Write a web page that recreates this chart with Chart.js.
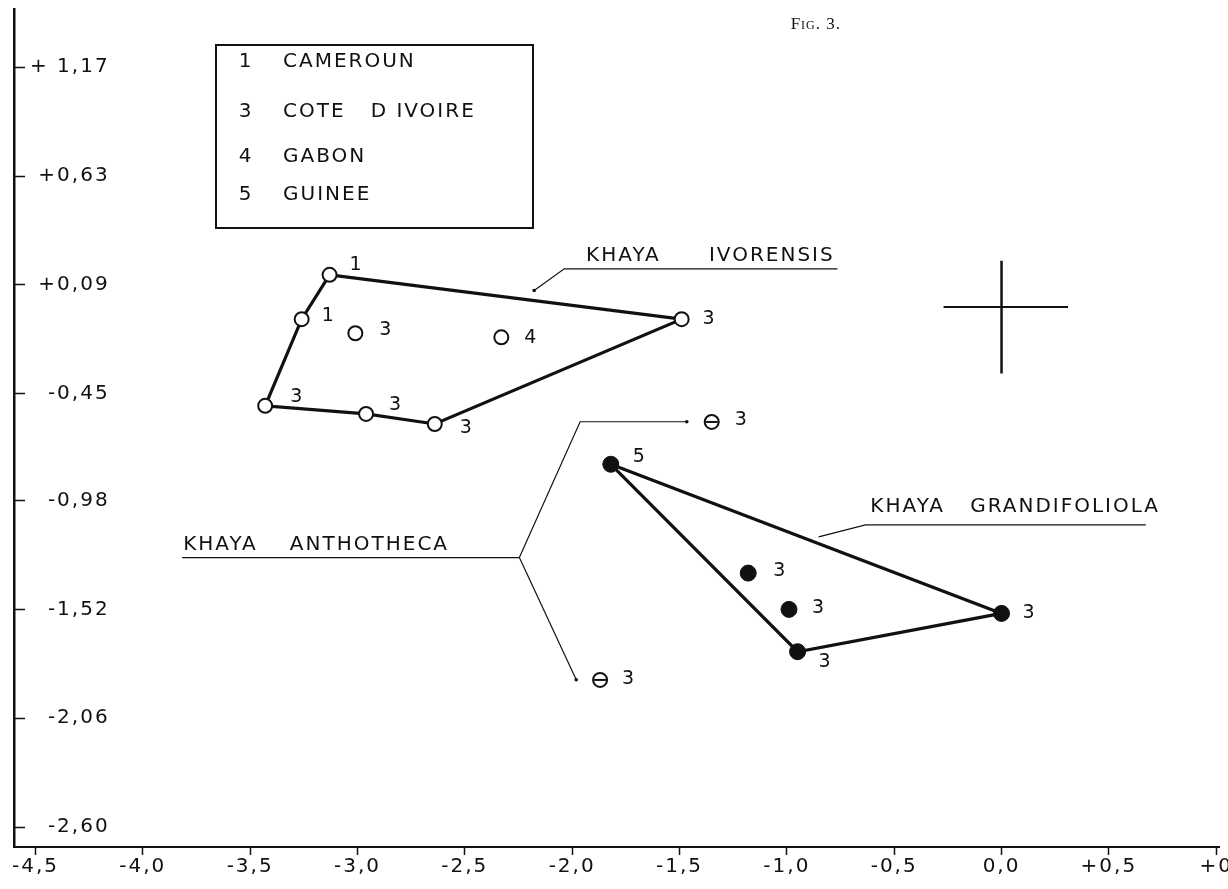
<!DOCTYPE html>
<html>
<head>
<meta charset="utf-8">
<script src="https://cdn.jsdelivr.net/npm/chart.js@4.4.1/dist/chart.umd.min.js"></script>
<style>
html,body{margin:0;padding:0;background:#fff;}
#wrap{width:1228px;height:889px;position:relative;}
</style>
</head>
<body>
<div id="wrap"><canvas id="c" width="1228" height="889"></canvas></div>
<script>
// ---------- data ----------
const xTickValues = [-4.5, -4.0, -3.5, -3.0, -2.5, -2.0, -1.5, -1.0, -0.5, 0.0, 0.5, 1.0];
const xTickLabels = ['-4,5', '-4,0', '-3,5', '-3,0', '-2,5', '-2,0', '-1,5', '-1,0', '-0,5', '0,0', '+0,5', '+0'];
const yTickValues = [1.17, 0.63, 0.09, -0.45, -0.98, -1.52, -2.06, -2.60];
const yTickLabels = ['+ 1,17', '+0,63', '+0,09', '-0,45', '-0,98', '-1,52', '-2,06', '-2,60'];

// Khaya ivorensis (open circles)
const ivorensisX = [-3.13, -3.26, -3.01, -2.33, -1.49, -3.43, -2.96, -2.64];
const ivorensisY = [0.14, -0.08, -0.15, -0.17, -0.08, -0.51, -0.55, -0.60];
const ivorensisCode = ['1', '1', '3', '4', '3', '3', '3', '3'];
const ivorensisHull = [0, 4, 7, 6, 5, 1, 0];

// Khaya grandifoliola (filled circles)
const grandifoliolaX = [-1.82, -1.18, -0.99, -0.95, 0.00];
const grandifoliolaY = [-0.80, -1.34, -1.52, -1.73, -1.54];
const grandifoliolaCode = ['5', '3', '3', '3', '3'];
const grandifoliolaHull = [0, 4, 3, 0];

// Khaya anthotheca (barred circles)
const anthothecaX = [-1.35, -1.87];
const anthothecaY = [-0.59, -1.87];
const anthothecaCode = ['3', '3'];

// reference cross
const crossHX = [-0.27, 0.31];
const crossHY = [-0.02, -0.02];
const crossVX = [0.0, 0.0];
const crossVY = [0.21, -0.35];

// key
const legendCodes = ['1', '3', '4', '5'];
const legendNames = ['CAMEROUN', 'COTE   D IVOIRE', 'GABON', 'GUINEE'];
const speciesGenus = ['KHAYA', 'KHAYA', 'KHAYA'];
const speciesEpithet = ['IVORENSIS', 'GRANDIFOLIOLA', 'ANTHOTHECA'];
const figureTitle = 'Fig. 3.';

// ---------- helpers ----------
const INK = '#111';
const FONT = "'DejaVu Sans', sans-serif";
const SPACING = '2px';
const pts = (xs, ys) => xs.map((x, i) => ({x, y: ys[i]}));
const hull = (xs, ys, idx) => idx.map(i => ({x: xs[i], y: ys[i]}));

// label offsets next to each point (pixels)
const labelOffsets = {
  ivorensis: [[26,-10],[26,-3],[30,-3],[29,1],[27,0],[31,-9],[29,-9],[31,4]],
  grandifoliola: [[28,-7],[31,-2],[29,-1],[27,10],[27,0]],
  anthotheca: [[29,-2],[28,-1]]
};

const spacingPlugin = {
  id: 'spacing',
  beforeUpdate(chart) { chart.ctx.letterSpacing = SPACING; },
  beforeRender(chart) { chart.ctx.letterSpacing = SPACING; },
  beforeDraw(chart) {
    const ctx = chart.ctx;
    ctx.save();
    ctx.fillStyle = '#fff';
    ctx.fillRect(0, 0, chart.width, chart.height);
    ctx.restore();
    ctx.letterSpacing = SPACING;
  }
};

const pointLabelPlugin = {
  id: 'pointLabels',
  afterDatasetsDraw(chart) {
    const ctx = chart.ctx;
    ctx.save();
    ctx.letterSpacing = '0px';
    ctx.font = '19px ' + FONT;
    ctx.fillStyle = INK;
    ctx.textAlign = 'center';
    ctx.textBaseline = 'middle';
    chart.data.datasets.forEach((ds, di) => {
      if (!ds.codes) return;
      const meta = chart.getDatasetMeta(di);
      const offs = labelOffsets[ds.key] || [];
      meta.data.forEach((el, i) => {
        const o = offs[i] || [28, 0];
        ctx.fillText(ds.codes[i], el.x + o[0], el.y + o[1]);
      });
    });
    ctx.restore();
  }
};

const annotationPlugin = {
  id: 'annotations',
  afterDraw(chart) {
    const {ctx, scales: {x, y}} = chart;
    const X = v => x.getPixelForValue(v), Y = v => y.getPixelForValue(v);
    ctx.save();
    ctx.strokeStyle = INK;
    ctx.fillStyle = INK;
    ctx.lineWidth = 1.2;
    const poly = (p) => {
      ctx.beginPath();
      p.forEach((q, i) => i ? ctx.lineTo(X(q[0]), Y(q[1])) : ctx.moveTo(X(q[0]), Y(q[1])));
      ctx.stroke();
    };
    const dot = (q) => { ctx.beginPath(); ctx.arc(X(q[0]), Y(q[1]), 1.8, 0, Math.PI * 2); ctx.fill(); };

    ctx.font = '20px ' + FONT;
    ctx.letterSpacing = SPACING;
    ctx.textAlign = 'left';
    ctx.textBaseline = 'middle';

    // Khaya ivorensis
    ctx.fillText(speciesGenus[0], X(-1.935), Y(0.234));
    ctx.fillText(speciesEpithet[0], X(-1.363), Y(0.234));
    poly([[-2.177, 0.062], [-2.037, 0.17], [-0.764, 0.17]]);
    dot([-2.177, 0.062]);

    // Khaya grandifoliola
    ctx.fillText(speciesGenus[1], X(-0.611), Y(-1.012));
    ctx.fillText(speciesEpithet[1], X(-0.146), Y(-1.012));
    poly([[-0.852, -1.160], [-0.634, -1.101], [0.672, -1.101]]);

    // Khaya anthotheca
    ctx.fillText(speciesGenus[2], X(-3.812), Y(-1.199));
    ctx.fillText(speciesEpithet[2], X(-3.315), Y(-1.199));
    poly([[-3.817, -1.263], [-2.246, -1.263]]);
    poly([[-2.246, -1.263], [-1.963, -0.589], [-1.466, -0.589]]);
    poly([[-2.246, -1.263], [-1.981, -1.869]]);
    dot([-1.466, -0.589]);
    dot([-1.981, -1.869]);

    // key box
    ctx.lineWidth = 2;
    ctx.strokeRect(216, 45, 317, 183);
    const rows = [62, 112, 157, 195];
    legendCodes.forEach((c, i) => {
      ctx.textAlign = 'center';
      ctx.fillText(c, 246, rows[i]);
      ctx.textAlign = 'left';
      ctx.fillText(legendNames[i], 283, rows[i]);
    });

    // figure number
    ctx.font = 'small-caps 17px "Liberation Serif", serif';
    ctx.letterSpacing = '1px';
    ctx.textAlign = 'right';
    ctx.fillText(figureTitle, 841, 25);
    ctx.restore();
    ctx.letterSpacing = SPACING;
  }
};

const tickFont = {family: FONT, size: 20};

new Chart(document.getElementById('c'), {
  type: 'scatter',
  data: {
    datasets: [
      {key: 'anthothecaBar', data: pts(anthothecaX, anthothecaY), pointStyle: 'line', pointRadius: 6,
       pointBorderColor: INK, pointBorderWidth: 2, order: 0},
      {key: 'ivorensis', codes: ivorensisCode, data: pts(ivorensisX, ivorensisY), pointStyle: 'circle',
       pointRadius: 7, pointBackgroundColor: '#fff', pointBorderColor: INK, pointBorderWidth: 2, order: 1},
      {key: 'grandifoliola', codes: grandifoliolaCode, data: pts(grandifoliolaX, grandifoliolaY), pointStyle: 'circle',
       pointRadius: 8, pointBackgroundColor: INK, pointBorderColor: INK, pointBorderWidth: 1, order: 1},
      {key: 'anthotheca', codes: anthothecaCode, data: pts(anthothecaX, anthothecaY), pointStyle: 'circle',
       pointRadius: 7, pointBackgroundColor: '#fff', pointBorderColor: INK, pointBorderWidth: 2, order: 1},
      {key: 'hullIvorensis', data: hull(ivorensisX, ivorensisY, ivorensisHull), showLine: true,
       borderColor: INK, borderWidth: 3.2, pointRadius: 0, tension: 0, order: 2},
      {key: 'hullGrandifoliola', data: hull(grandifoliolaX, grandifoliolaY, grandifoliolaHull), showLine: true,
       borderColor: INK, borderWidth: 3.2, pointRadius: 0, tension: 0, order: 2},
      {key: 'crossH', data: pts(crossHX, crossHY), showLine: true, borderColor: INK, borderWidth: 2, pointRadius: 0, order: 2},
      {key: 'crossV', data: pts(crossVX, crossVY), showLine: true, borderColor: INK, borderWidth: 2.5, pointRadius: 0, order: 2}
    ]
  },
  options: {
    responsive: false,
    animation: false,
    events: [],
    layout: {padding: {top: 3, right: 6, left: 0, bottom: 0}},
    plugins: {legend: {display: false}, tooltip: {enabled: false}, title: {display: false}},
    scales: {
      x: {
        type: 'linear', position: 'bottom', min: -4.6, max: 1.013,
        afterBuildTicks: s => { s.ticks = xTickValues.map(v => ({value: v})); },
        afterFit: s => { s.height = 42; s.paddingLeft = 0; s.paddingRight = 0; },
        grid: {drawOnChartArea: false, drawTicks: true, tickLength: 8, tickColor: INK, tickWidth: 1.5},
        border: {display: true, color: INK, width: 2},
        ticks: {callback: v => xTickLabels[xTickValues.indexOf(v)], font: tickFont, color: INK,
                padding: 0, maxRotation: 0, autoSkip: false}
      },
      y: {
        type: 'linear', position: 'left', min: -2.699, max: 1.459,
        afterBuildTicks: s => { s.ticks = yTickValues.slice().reverse().map(v => ({value: v})); },
        afterFit: s => { s.width = 14; s.paddingTop = 0; s.paddingBottom = 0; },
        grid: {drawOnChartArea: false, drawTicks: true, tickLength: -11, tickColor: INK, tickWidth: 1.5},
        border: {display: true, color: INK, width: 2.5},
        ticks: {mirror: true, crossAlign: 'far', padding: 16,
                callback: v => yTickLabels[yTickValues.indexOf(v)], font: tickFont, color: INK, autoSkip: false}
      }
    }
  },
  plugins: [spacingPlugin, pointLabelPlugin, annotationPlugin]
});
</script>
</body>
</html>
